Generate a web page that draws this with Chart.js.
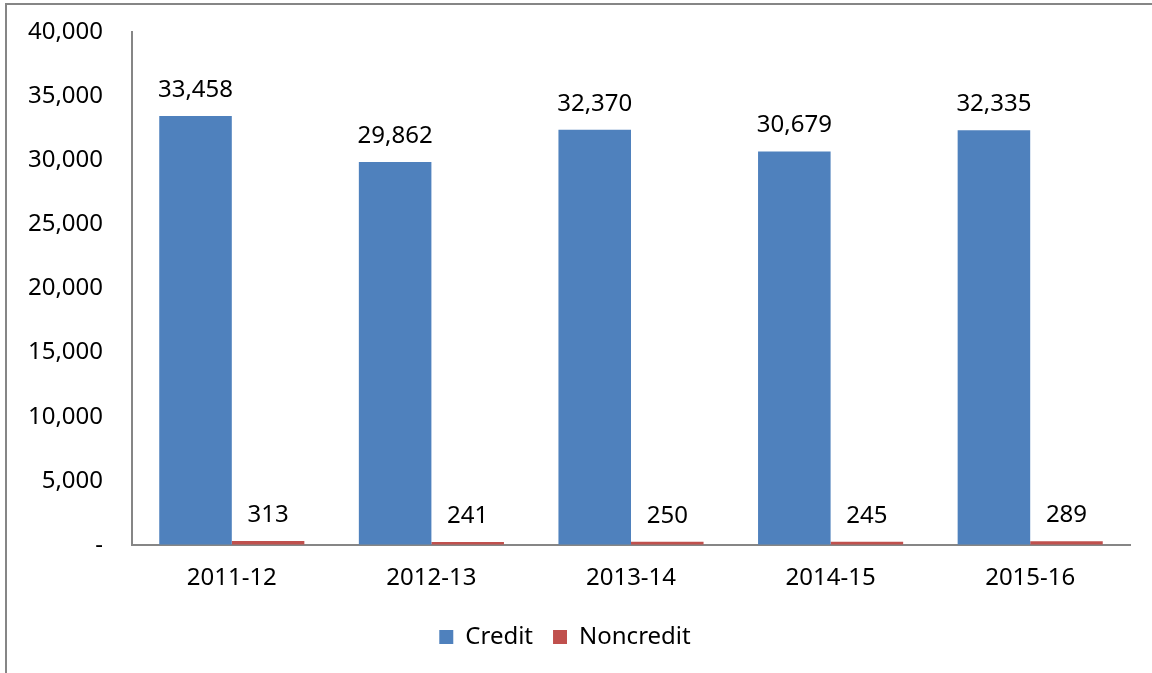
<!DOCTYPE html>
<html>
<head>
<meta charset="utf-8">
<script src="https://cdn.jsdelivr.net/npm/chart.js@4"></script>
<style>
  html, body { margin: 0; padding: 0; background: #fff; overflow: hidden; }
  #frame { position: absolute; left: 5px; top: 3px; width: 1160px; height: 690px; border: 2px solid #868686; box-sizing: border-box; }
  #wrap { position: absolute; left: 0; top: 0; width: 1152px; height: 673px; }
</style>
</head>
<body>
<div id="frame"></div>
<div id="wrap"><canvas id="chart" width="1152" height="673"></canvas></div>
<script>
const years = ['2011-12', '2012-13', '2013-14', '2014-15', '2015-16'];
const credit = [33458, 29862, 32370, 30679, 32335];
const noncredit = [313, 241, 250, 245, 289];

const font = "'Noto Sans', 'Open Sans', sans-serif";

const valueLabels = {
    id: 'valueLabels',
    afterDatasetsDraw(chart) {
        const ctx = chart.ctx;
        ctx.save();
        ctx.font = '24px ' + font;
        ctx.fillStyle = '#000';
        ctx.textAlign = 'center';
        ctx.textBaseline = 'bottom';
        chart.data.datasets.forEach((ds, i) => {
            chart.getDatasetMeta(i).data.forEach((bar, j) => {
                ctx.fillText(ds.data[j].toLocaleString('en-US'), bar.x, bar.y - 14);
            });
        });
        ctx.restore();
    }
};

new Chart(document.getElementById('chart').getContext('2d'), {
    type: 'bar',
    data: {
        labels: years,
        datasets: [
            { label: 'Credit', data: credit, backgroundColor: '#4F81BD' },
            { label: 'Noncredit', data: noncredit, backgroundColor: '#C0504D' }
        ]
    },
    options: {
        responsive: false,
        animation: false,
        categoryPercentage: 0.727,
        barPercentage: 1,
        layout: { padding: { top: 32, right: 22, bottom: 14, left: 0 } },
        plugins: {
            tooltip: { enabled: false },
            legend: {
                position: 'bottom',
                labels: {
                    font: { family: font, size: 24 },
                    color: '#000',
                    boxWidth: 14,
                    boxHeight: 14,
                    padding: 20
                }
            }
        },
        scales: {
            x: {
                grid: { display: true, drawOnChartArea: false, drawTicks: false },
                border: { display: true, color: '#868686', width: 2 },
                ticks: { font: { family: font, size: 24 }, color: '#000', padding: 19 },
                afterFit(scale) { scale.height = 60; scale.paddingLeft = 0; scale.paddingRight = 0; }
            },
            y: {
                min: 0,
                max: 40000,
                grid: { display: true, drawOnChartArea: false, drawTicks: false },
                border: { display: true, color: '#868686', width: 2 },
                ticks: {
                    stepSize: 5000,
                    font: { family: font, size: 24 },
                    color: '#000',
                    padding: 29,
                    callback: v => v === 0 ? '-' : v.toLocaleString('en-US')
                },
                afterFit(scale) { scale.width = 132; scale.paddingTop = 0; scale.paddingBottom = 0; }
            }
        }
    },
    plugins: [valueLabels]
});
</script>
</body>
</html>
